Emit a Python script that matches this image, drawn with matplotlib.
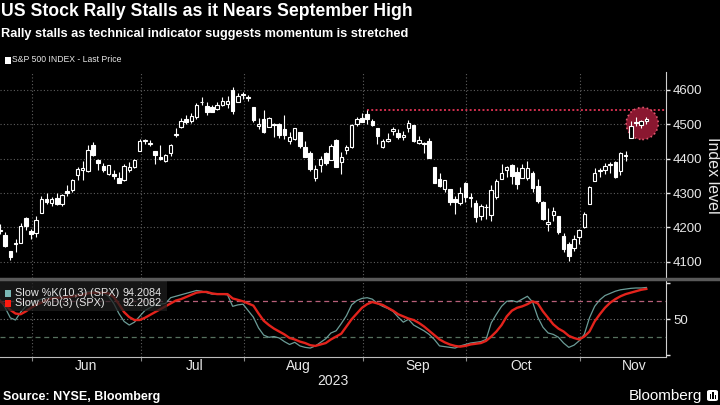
import matplotlib
matplotlib.use("Agg")
import matplotlib.pyplot as plt
from matplotlib.patches import Ellipse, Rectangle, FancyBboxPatch
from matplotlib.lines import Line2D
import numpy as np
import pandas as pd

plt.rcParams["font.family"] = ["Liberation Sans", "DejaVu Sans"]

# ---- data: S&P 500 daily candles, 22 May - 17 Nov 2023 ----
holidays = ["2023-05-29", "2023-06-19", "2023-07-04", "2023-09-04"]
dates = pd.bdate_range("2023-05-22", "2023-11-17", freq="C", holidays=holidays)

opens = [4190.78, 4176.80, 4132.96, 4155.71, 4156.16, 4226.71, 4190.74,
         4183.03, 4241.01, 4282.99, 4271.61, 4285.47, 4268.69, 4304.88, 4308.32, 4352.61, 4366.29,
         4365.33, 4440.95, 4396.11, 4380.01, 4355.40, 4354.17, 4344.84, 4337.36, 4367.48, 4374.94, 4422.44,
         4450.48, 4442.04, 4422.62, 4404.54, 4394.23, 4415.55, 4467.69, 4491.50, 4514.61, 4508.86,
         4521.78, 4563.87, 4554.38, 4550.16, 4543.39, 4555.19, 4558.96, 4598.26, 4565.75, 4584.82,
         4578.83, 4550.93, 4494.27, 4513.96, 4491.58, 4498.03, 4501.57, 4487.16, 4450.69, 4458.13,
         4478.87, 4433.79, 4416.32, 4344.88, 4380.28, 4415.33, 4396.44, 4455.16, 4389.38, 4426.03,
         4432.75, 4500.34, 4517.01,
         4530.60, 4510.06, 4490.35, 4434.55, 4451.30, 4480.98, 4473.27, 4462.65, 4487.78, 4497.98,
         4445.13, 4445.41, 4452.81, 4374.36, 4341.74, 4310.62, 4312.88, 4282.63, 4269.65, 4328.18,
         4284.52, 4269.75, 4233.83, 4259.31, 4234.79, 4289.02, 4339.75, 4366.59, 4380.94, 4360.49,
         4342.37, 4345.23, 4357.35, 4321.36, 4273.85, 4210.40, 4235.79, 4232.42, 4175.99, 4152.93,
         4139.39, 4171.33,
         4201.27, 4268.26, 4334.23, 4364.27, 4366.21, 4384.37, 4391.41, 4364.15, 4406.66, 4458.97,
         4505.30, 4497.08, 4509.55]
highs = [4209.22, 4185.68, 4132.96, 4165.74, 4212.87, 4231.10, 4195.44,
         4232.43, 4290.67, 4299.28, 4288.33, 4299.19, 4298.01, 4322.62, 4340.13, 4375.37, 4391.82,
         4439.20, 4448.47, 4400.15, 4386.22, 4382.25, 4366.55, 4362.06, 4384.42, 4390.35, 4398.39, 4458.48,
         4456.46, 4454.06, 4422.62, 4440.39, 4412.60, 4443.64, 4488.34, 4517.38, 4527.76, 4532.85,
         4562.30, 4578.43, 4564.74, 4555.00, 4563.41, 4580.62, 4582.47, 4607.07, 4590.16, 4594.22,
         4584.62, 4550.93, 4519.49, 4540.34, 4519.84, 4503.31, 4502.44, 4527.37, 4476.23, 4490.33,
         4478.87, 4449.95, 4421.17, 4381.82, 4407.55, 4418.59, 4443.18, 4458.30, 4418.46, 4439.56,
         4500.14, 4521.65, 4532.26,
         4541.25, 4514.29, 4490.35, 4457.81, 4473.53, 4490.77, 4487.11, 4479.39, 4511.99, 4497.98,
         4466.36, 4449.85, 4461.03, 4375.70, 4357.40, 4338.51, 4313.01, 4292.07, 4317.27, 4333.15,
         4300.58, 4281.15, 4268.50, 4267.13, 4324.10, 4341.73, 4385.46, 4378.64, 4385.85, 4377.10,
         4383.33, 4393.57, 4364.20, 4339.54, 4276.56, 4255.84, 4259.38, 4232.42, 4183.60, 4156.70,
         4177.47, 4195.55,
         4245.64, 4319.72, 4373.62, 4372.21, 4386.26, 4391.20, 4393.40, 4418.03, 4421.76, 4508.67,
         4521.17, 4511.99, 4520.12]
lows = [4179.68, 4142.54, 4103.98, 4129.73, 4156.16, 4192.18, 4166.15,
        4171.64, 4241.01, 4266.82, 4263.09, 4263.96, 4261.07, 4291.70, 4304.37, 4337.66, 4337.85,
        4362.60, 4407.44, 4367.19, 4360.14, 4351.82, 4341.34, 4328.08, 4335.00, 4360.22, 4371.97, 4422.44,
        4442.29, 4436.61, 4385.05, 4397.40, 4389.92, 4408.46, 4463.23, 4489.36, 4499.56, 4504.90,
        4514.59, 4557.48, 4527.56, 4535.79, 4541.29, 4552.42, 4547.58, 4528.56, 4564.01, 4573.14,
        4567.53, 4505.75, 4485.54, 4474.55, 4491.15, 4464.39, 4461.33, 4457.92, 4443.98, 4453.44,
        4432.19, 4403.55, 4364.83, 4335.31, 4360.30, 4382.77, 4396.44, 4375.55, 4356.29, 4414.98,
        4431.68, 4493.59, 4507.39,
        4501.35, 4496.01, 4442.38, 4430.46, 4448.38, 4467.89, 4456.83, 4453.52, 4478.69, 4447.21,
        4442.11, 4416.61, 4401.38, 4329.17, 4316.49, 4302.70, 4265.98, 4238.63, 4264.38, 4274.86,
        4260.21, 4216.45, 4220.48, 4225.91, 4219.55, 4283.79, 4339.64, 4345.34, 4325.43, 4311.97,
        4342.37, 4337.54, 4303.84, 4269.69, 4223.03, 4189.22, 4219.43, 4181.42, 4127.90, 4103.78,
        4132.94, 4153.12,
        4197.74, 4268.26, 4334.23, 4347.53, 4355.41, 4359.76, 4343.94, 4353.34, 4393.82, 4458.97,
        4495.31, 4487.83, 4499.66]
closes = [4192.63, 4145.58, 4115.24, 4151.28, 4205.45, 4205.52, 4179.83,
          4221.02, 4282.37, 4273.79, 4283.85, 4267.52, 4293.93, 4298.86, 4338.93, 4369.01, 4372.59,
          4425.84, 4409.59, 4388.71, 4365.69, 4381.89, 4348.33, 4328.82, 4378.41, 4376.86, 4396.44, 4450.38,
          4455.59, 4446.82, 4411.59, 4398.95, 4409.53, 4439.26, 4472.16, 4510.04, 4505.42, 4522.79,
          4554.98, 4565.72, 4534.87, 4536.34, 4554.64, 4567.46, 4566.75, 4537.41, 4582.23, 4588.96,
          4576.73, 4513.39, 4501.89, 4478.03, 4518.44, 4499.38, 4467.71, 4468.83, 4464.05, 4489.72,
          4437.86, 4404.33, 4370.36, 4369.71, 4399.77, 4387.55, 4436.01, 4376.31, 4405.71, 4433.31,
          4497.63, 4514.87, 4507.66,
          4515.77, 4496.83, 4465.48, 4451.14, 4457.49, 4487.46, 4461.90, 4467.44, 4505.10, 4450.32,
          4453.53, 4443.95, 4402.20, 4330.00, 4320.06, 4337.44, 4273.53, 4274.51, 4299.70, 4288.05,
          4288.39, 4229.45, 4263.75, 4258.19, 4308.50, 4335.66, 4358.24, 4376.95, 4349.61, 4327.78,
          4373.63, 4373.20, 4314.60, 4278.00, 4224.16, 4217.04, 4247.68, 4186.77, 4137.23, 4117.37,
          4166.82, 4193.80,
          4237.86, 4317.78, 4358.34, 4365.98, 4378.38, 4382.78, 4347.35, 4415.24, 4411.55, 4495.70,
          4502.88, 4508.24, 4514.02]

# stochastic lines
slow_k = [77, 66, 52, 49, 60, 68, 73, 76, 78, 80, 81, 81, 81, 82, 83, 85, 86, 88, 89, 89,
          87, 82, 72, 58, 47, 42, 46, 54, 62, 66, 70, 71, 72, 80, 82, 84, 86, 88, 90, 89,
          87, 85, 85, 85, 84, 68, 70, 71, 62, 53, 38, 28, 25, 26, 24, 19, 15, 18, 13, 11,
          10, 13, 18, 23, 31, 34, 44, 55, 70, 76, 79, 80, 78, 72, 68, 65, 61, 53, 46, 50,
          42, 38, 34, 29, 22, 13, 12, 11, 10, 13, 15, 17, 18, 19, 22, 45, 57, 68, 75, 76,
          74, 78, 82, 74, 53, 39, 31, 29, 25, 17, 11, 14, 20, 29, 52, 68, 77, 83, 86, 89,
          91, 92, 93, 93.5, 93.5, 94.2084]
slow_d = [75, 70, 63, 58, 57, 61, 66, 70, 73, 77, 79, 80, 80, 81, 82, 83, 84, 86, 87, 87,
          87, 86, 81, 71, 60, 53, 49, 49, 52, 56, 60, 64, 68, 72, 76, 78, 81, 84, 87, 88,
          88, 86, 85, 85, 85, 79, 77, 75, 72, 69, 58, 48, 42, 37, 33, 29, 24, 22, 19, 17,
          14, 13, 15, 17, 22, 26, 30, 40, 50, 58, 66, 71, 74, 72, 70, 66, 62, 57, 54, 51,
          49, 45, 40, 34, 28, 22, 18, 15, 13, 12, 13, 15, 16, 17, 20, 26, 33, 42, 54, 62,
          66, 68, 71, 75, 72, 61, 52, 43, 37, 33, 27, 24, 22, 26, 33, 47, 57, 66, 73, 78,
          82, 85, 87, 89, 91, 92.2082]

price_ticks = [4100, 4200, 4300, 4400, 4500, 4600]

W, H = 720, 405
def fx(px):
    return px / W
def fy(py):
    return 1 - py / H

o = np.array(opens); h = np.array(highs); l = np.array(lows); c = np.array(closes)
n = len(dates)
x = np.arange(n)
xmax = 128.8

fig = plt.figure(figsize=(7.2, 4.05), dpi=100, facecolor="black")
ax = fig.add_axes([0, fy(278), fx(666), (278 - 72) / H])
ax2 = fig.add_axes([0, fy(357), fx(666), (357 - 280) / H])

for a in (ax, ax2):
    a.set_facecolor("black")
    a.set_xlim(0, xmax)
    for s in ("left", "top"):
        a.spines[s].set_visible(False)
    a.spines["right"].set_color("#d0d0d0")
    a.yaxis.tick_right()
    a.tick_params(axis="y", colors="#e8e8e8", length=3, width=1, labelsize=9.5, pad=2)

# month boundaries
bounds = [i for i in range(1, n) if dates[i].month != dates[i - 1].month]
grid_x = [b - 0.8 for b in bounds]

# ---- price panel ----
ax.spines["bottom"].set_visible(False)
ax.set_ylim(4053, 4652)
ax.set_yticks(price_ticks)
ax.set_xticks([])
ax.grid(axis="y", color="#5e5e5e", ls=(0, (1, 2)), lw=0.8)
for gx in grid_x:
    ax.axvline(gx, color="#5e5e5e", ls=(0, (1, 2)), lw=0.8, zorder=1)

sep_i = 71 + int(np.argmax(h[71:91]))
ax.hlines(h[sep_i], sep_i, xmax, color="#d2304f", ls=(0, (1, 1.2)), lw=1.4, zorder=2)

ax.add_patch(Ellipse((x[-4:].mean() + 0.7, c[-4:].mean() - 3), 6.2, 93,
                     fc="#8a1730", ec="#e0586f", ls=":", lw=1.2, zorder=2))

up = c >= o
bot = np.minimum(o, c)
body = np.maximum(np.abs(c - o), 1.2)
ax.vlines(x, l, h, color="white", lw=0.8, zorder=3)
ax.bar(x[up], body[up], bottom=bot[up], width=0.68, color="black",
       edgecolor="white", lw=0.8, zorder=4)
ax.bar(x[~up], body[~up], bottom=bot[~up], width=0.68, color="white",
       edgecolor="white", lw=0.8, zorder=4)

# ---- stochastic panel ----
ax2.set_ylim(-2.4, 104.6)
ax2.set_yticks([0, 50, 100])
ax2.set_yticklabels(["", "50", ""])
ax2.spines["bottom"].set_color("#bdbdbd")
ax2.set_xticks(grid_x)
ax2.set_xticklabels([])
ax2.tick_params(axis="x", colors="#888888", length=3)
for gx in grid_x:
    ax2.axvline(gx, color="#5e5e5e", ls=(0, (1, 2)), lw=0.8, zorder=1)
ax2.axhline(50, color="#777777", ls=(0, (1, 2)), lw=0.8, zorder=1)
ax2.axhline(75, color="#b8607a", ls=(0, (4, 3)), lw=0.9, zorder=1)
ax2.axhline(25, color="#56705e", ls=(0, (4, 3)), lw=0.9, zorder=1)
ax2.plot(x, slow_k, color="#6b9c97", lw=0.9, zorder=3)
ax2.plot(x, slow_d, color="#e3231c", lw=1.7, zorder=4)

# legend box of lower panel
ax2.add_patch(Rectangle((0, (357 - 311) / 77), 167 / 666, 31 / 77, transform=ax2.transAxes,
                        fc="#1e1e1e", ec="none", alpha=0.75, zorder=5))
rows = [("Slow %K(10,3) (SPX)", slow_k[-1], "#7ab8b5", 293),
        ("Slow %D(3) (SPX)", slow_d[-1], "#ff1a10", 303)]
for label, val, col, py in rows:
    ya = (357 - py) / 77
    ax2.add_patch(Rectangle((5 / 666, ya - 3.5 / 77), 6 / 666, 7 / 77, transform=ax2.transAxes,
                            fc=col, ec="none", zorder=6))
    ax2.text(15 / 666, ya, label, transform=ax2.transAxes, ha="left", va="center",
             fontsize=7.8, color="#e6e6e6", zorder=6)
    ax2.text(162 / 666, ya, f"{val:.4f}", transform=ax2.transAxes, ha="right", va="center",
             fontsize=7.8, color="#e6e6e6", zorder=6)

# separator between panels
fig.add_artist(Line2D([0, 1], [fy(278.5), fy(278.5)], color="#595959", lw=2.5))

# month labels
for b in bounds:
    xd = b + 9.7
    ax2.text(xd, -0.12, dates[b].strftime("%b"), transform=ax2.get_xaxis_transform(),
             ha="center", va="center", fontsize=10, color="#e8e8e8")
fig.text(fx(333), fy(381), "2023", ha="center", va="center", fontsize=10, color="#e8e8e8")

# titles and texts
fig.text(fx(1), fy(3), "US Stock Rally Stalls as it Nears September High", ha="left", va="top",
         fontsize=12.7, weight="bold", color="white")
fig.text(fx(1), fy(28), "Rally stalls as technical indicator suggests momentum is stretched",
         ha="left", va="top", fontsize=9.2, weight="bold", color="white")
fig.add_artist(Rectangle((fx(5), fy(63.5)), fx(6), 7 / H, transform=fig.transFigure,
                         fc="white", ec="none"))
fig.text(fx(12), fy(60), "S&P 500 INDEX - Last Price", ha="left", va="center",
         fontsize=6.2, color="#e8e8e8")
fig.text(fx(712), fy(175), "Index level", rotation=270, ha="center", va="center",
         fontsize=11.5, color="#e8e8e8")
fig.text(fx(3), fy(397), "Source: NYSE, Bloomberg", ha="left", va="center",
         fontsize=9, weight="bold", color="white")
fig.text(fx(702), fy(396), "Bloomberg", ha="right", va="center",
         fontsize=11, color="white")
fig.add_artist(FancyBboxPatch((fx(707), fy(401)), fx(11), 11 / H, transform=fig.transFigure,
                              boxstyle="round,pad=0,rounding_size=0.004", fc="white", ec="none"))
for bx, bh in [(709.5, 5), (712, 7), (714.5, 4)]:
    fig.add_artist(Rectangle((fx(bx), fy(399)), fx(1.6), bh / H, transform=fig.transFigure,
                             fc="black", ec="none"))

fig.savefig("out.png", dpi=100, facecolor="black")
